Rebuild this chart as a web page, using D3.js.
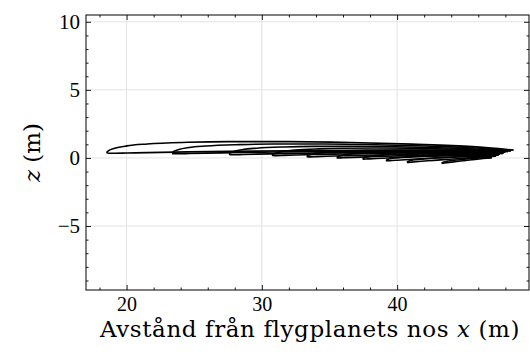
<!DOCTYPE html>
<html>
<head>
<meta charset="utf-8">
<script src="https://cdn.jsdelivr.net/npm/d3@7"></script>
<style>
  body { margin: 0; background: #fff; }
  svg text { font-family: "Liberation Serif", "DejaVu Serif", serif; fill: #000; }
</style>
</head>
<body>
<svg id="chart" width="530" height="354"></svg>
<script>
// wing sections, root first: leading edge, trailing edge, profile height
var leX = [18.52, 23.36, 27.57, 30.75, 33.32, 35.54, 37.46, 39.18, 40.73, 43.30];
var leZ = [0.39, 0.35, 0.27, 0.20, 0.10, 0.02, -0.07, -0.20, -0.32, -0.39];
var teX = [48.6, 48.4, 48.2, 48.0, 47.9, 47.8, 47.6, 47.5, 47.3, 47.0];
var teZ = [0.58, 0.52, 0.47, 0.43, 0.38, 0.33, 0.27, 0.20, 0.13, 0.02];
var height = [0.75, 0.62, 0.52, 0.44, 0.37, 0.31, 0.26, 0.22, 0.18, 0.12];

// normalized profile (fraction of chord, fraction of height)
var profS = [0, 0.005, 0.02, 0.05, 0.1, 0.2, 0.3, 0.45, 0.6, 0.75, 0.9, 1];
var profUpper = [0, 0.2, 0.42, 0.65, 0.82, 0.96, 1.0, 0.96, 0.84, 0.64, 0.36, 0];
var profLower = [0, -0.06, -0.07, -0.05, -0.02, 0.02, 0.05, 0.07, 0.07, 0.05, 0.02, 0];

var xTicks = [20, 30, 40];
var yTicks = [-5, 0, 5, 10];

var margin = {top: 15, right: 1, bottom: 64, left: 86},
    W = 530, H = 354,
    width = W - margin.left - margin.right,
    height_plot = H - margin.top - margin.bottom;

var svg = d3.select("#chart");
var g = svg.append("g")
    .attr("transform", "translate(" + margin.left + "," + margin.top + ")");

var x = d3.scaleLinear().domain([17.0, 49.75]).range([0, width]);
var y = d3.scaleLinear().domain([-9.7, 10.5]).range([height_plot, 0]);

// grid
g.selectAll(".gx").data(xTicks).enter().append("line")
    .attr("x1", d => x(d)).attr("x2", d => x(d))
    .attr("y1", 0).attr("y2", height_plot)
    .attr("stroke", "#e3e3e3").attr("stroke-width", 1);
g.selectAll(".gy").data(yTicks).enter().append("line")
    .attr("y1", d => y(d)).attr("y2", d => y(d))
    .attr("x1", 0).attr("x2", width)
    .attr("stroke", "#e3e3e3").attr("stroke-width", 1);

// sections
var line = d3.line()
    .x(d => x(d[0])).y(d => y(d[1]))
    .curve(d3.curveMonotoneX);

leX.forEach(function(lx, i) {
  var c = teX[i] - lx;
  var upper = profS.map(function(s, k) {
    return [lx + s * c, leZ[i] + s * (teZ[i] - leZ[i]) + profUpper[k] * height[i]];
  });
  var lower = profS.map(function(s, k) {
    return [lx + s * c, leZ[i] + s * (teZ[i] - leZ[i]) + profLower[k] * height[i]];
  });
  [upper, lower].forEach(function(pts) {
    g.append("path")
      .attr("d", line(pts))
      .attr("fill", "none")
      .attr("stroke", "#000")
      .attr("stroke-width", 1.6)
      .attr("stroke-linejoin", "round");
  });
});

// axes with inward ticks on all sides
function styleAxis(a) {
  a.select(".domain").remove();
  a.selectAll("line").attr("stroke", "#000").attr("stroke-width", 0.9);
}
var xMinor = d3.range(18, 50, 2).filter(v => xTicks.indexOf(v) < 0);
var yMinor = d3.range(-9, 11, 1).filter(v => yTicks.indexOf(v) < 0);

var xb = g.append("g").attr("transform", "translate(0," + height_plot + ")")
    .call(d3.axisBottom(x).tickValues(xTicks).tickSize(-5).tickPadding(7).tickFormat(d3.format("d")));
styleAxis(xb);
xb.selectAll("text").style("font-size", "20px");
var xbm = g.append("g").attr("transform", "translate(0," + height_plot + ")")
    .call(d3.axisBottom(x).tickValues(xMinor).tickSize(-2.5).tickFormat(""));
styleAxis(xbm);
var xt = g.append("g")
    .call(d3.axisTop(x).tickValues(xTicks).tickSize(-5).tickFormat(""));
styleAxis(xt);
var xtm = g.append("g")
    .call(d3.axisTop(x).tickValues(xMinor).tickSize(-2.5).tickFormat(""));
styleAxis(xtm);

var yl = g.append("g")
    .call(d3.axisLeft(y).tickValues(yTicks).tickSize(-5).tickPadding(6)
      .tickFormat(d => d < 0 ? "\u2212" + Math.abs(d) : d));
styleAxis(yl);
yl.selectAll("text").style("font-size", "21px");
var ylm = g.append("g")
    .call(d3.axisLeft(y).tickValues(yMinor).tickSize(-2.5).tickFormat(""));
styleAxis(ylm);
var yr = g.append("g").attr("transform", "translate(" + width + ",0)")
    .call(d3.axisRight(y).tickValues(yTicks).tickSize(-5).tickFormat(""));
styleAxis(yr);
var yrm = g.append("g").attr("transform", "translate(" + width + ",0)")
    .call(d3.axisRight(y).tickValues(yMinor).tickSize(-2.5).tickFormat(""));
styleAxis(yrm);

// frame
g.append("rect")
    .attr("x", 0).attr("y", 0).attr("width", width).attr("height", height_plot)
    .attr("fill", "none").attr("stroke", "#000").attr("stroke-width", 1);

// labels
var xl = svg.append("text")
    .attr("x", 310)
    .attr("y", 337)
    .attr("text-anchor", "middle")
    .style("font-family", "'DejaVu Serif', serif")
    .style("font-size", "23px")
    .style("letter-spacing", "0.6px");
xl.append("tspan").text("Avstånd från flygplanets nos ");
xl.append("tspan").style("font-style", "italic").text("x");
xl.append("tspan").text(" (m)");

var ylab = svg.append("text")
    .attr("transform", "translate(40," + (margin.top + y(0.4)) + ") rotate(-90)")
    .attr("text-anchor", "middle")
    .style("font-family", "'DejaVu Serif', serif")
    .style("font-size", "23px");
ylab.append("tspan").style("font-style", "italic").text("z");
ylab.append("tspan").text(" (m)");
</script>
</body>
</html>
